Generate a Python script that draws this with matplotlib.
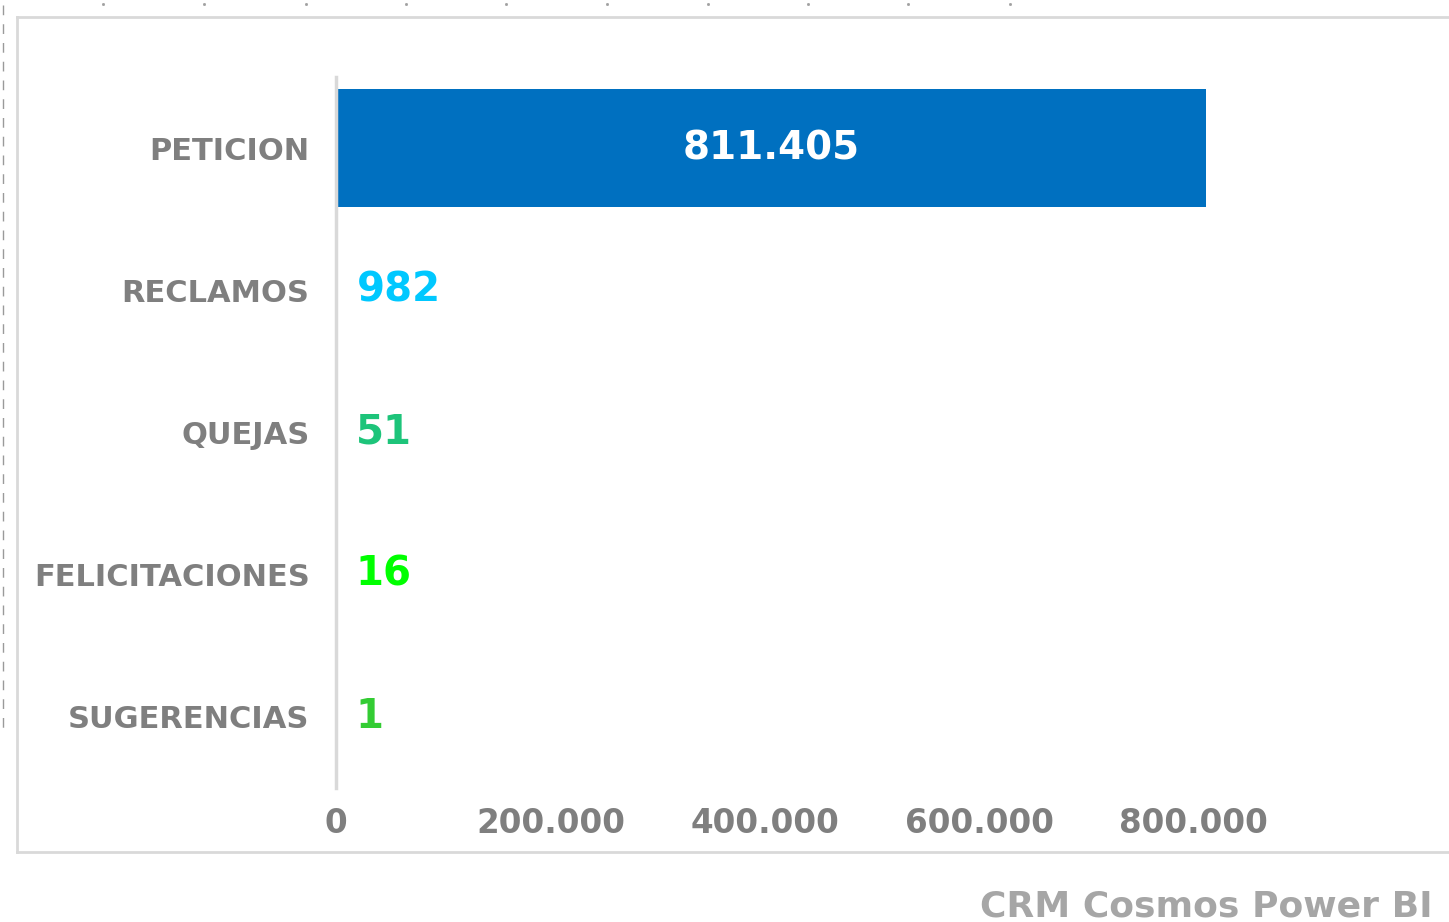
import matplotlib
matplotlib.use("Agg")
import matplotlib.pyplot as plt
from matplotlib.lines import Line2D

categories = ["PETICION", "RECLAMOS", "QUEJAS", "FELICITACIONES", "SUGERENCIAS"]
values = [811405, 982, 51, 16, 1]
value_labels = ["811.405", "982", "51", "16", "1"]
label_colors = ["#FFFFFF", "#00C8FF", "#1DC47A", "#00FF00", "#33CC33"]
xticks = [0, 200000, 400000, 600000, 800000]
xtick_labels = ["0", "200.000", "400.000", "600.000", "800.000"]
footer = "CRM Cosmos Power BI"

W, H = 1449, 922
fig = plt.figure(figsize=(W / 100, H / 100), dpi=100)
fig.patch.set_facecolor("white")

FONT = ["DejaVu Sans"]

def fx(px):
    return px / W

def fy(py):
    return 1 - py / H

# frame
frame_c = "#d9d9d9"
fig.add_artist(Line2D([fx(17), fx(1449)], [fy(17), fy(17)], color=frame_c, lw=2.0))
fig.add_artist(Line2D([fx(17), fx(1449)], [fy(852), fy(852)], color=frame_c, lw=2.0))
fig.add_artist(Line2D([fx(17), fx(17)], [fy(17), fy(852)], color=frame_c, lw=2.0))
# left dashed line
fig.add_artist(Line2D([fx(3), fx(3)], [fy(5), fy(730)], color="#9a9a9a", lw=1.0,
                      linestyle=(0, (7, 6.5))))
# small top marks
for px in [103, 204, 306, 406, 506, 607, 708, 808, 908, 1010]:
    fig.add_artist(Line2D([fx(px)], [fy(4)], marker="s", markersize=1.0,
                          color="#a0a0a0", lw=0))

ax = fig.add_axes([fx(336), fy(788), (1301 - 336) / W, (788 - 77) / H])
y = list(range(len(categories)))
ax.barh(y, values, height=0.83, color="#0070C0")
ax.set_ylim(len(categories) - 0.5, -0.5)
ax.set_xlim(0, 900000)

for sp in ["top", "right", "bottom"]:
    ax.spines[sp].set_visible(False)
ax.spines["left"].set_color("#d9d9d9")
ax.spines["left"].set_linewidth(2.5)

ax.set_yticks(y)
ax.set_yticklabels(categories, family=FONT, fontweight="bold", fontsize=22, color="#7f7f7f")
ax.set_xticks(xticks)
ax.set_xticklabels(xtick_labels, family=FONT, fontweight="bold", fontsize=23.5, color="#7f7f7f")
ax.tick_params(axis="both", length=0)
ax.tick_params(axis="x", pad=14)
ax.tick_params(axis="y", pad=19)

for i, (v, lab, c) in enumerate(zip(values, value_labels, label_colors)):
    if i == 0:
        ax.text(v / 2, i, lab, ha="center", va="center", family=FONT,
                fontweight="bold", fontsize=28, color=c)
    else:
        ax.annotate(lab, xy=(v, i), xytext=(14, 0), textcoords="offset points",
                    ha="left", va="center", family=FONT, fontweight="bold",
                    fontsize=29, color=c)

fig.text(fx(1433), fy(906), footer, ha="right", va="center", family=FONT,
         fontweight="bold", fontsize=26, color="#a6a6a6")

fig.savefig("out.png", dpi=100, facecolor="white")
